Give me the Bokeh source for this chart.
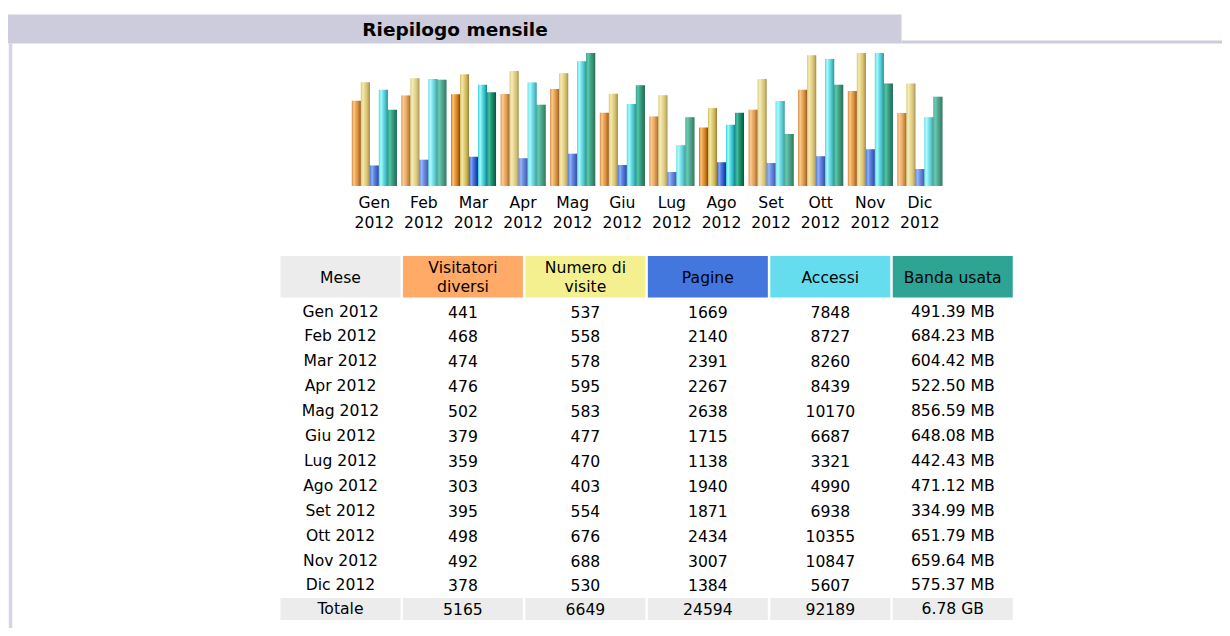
from bokeh.plotting import figure
from bokeh.models import Range1d
from bokeh.core.properties import value
from bokeh.embed import file_html
from bokeh.resources import INLINE

# ---------------- data ----------------
months_short = ["Gen", "Feb", "Mar", "Apr", "Mag", "Giu", "Lug", "Ago", "Set", "Ott", "Nov", "Dic"]
year = "2012"
visitors = [441, 468, 474, 476, 502, 379, 359, 303, 395, 498, 492, 378]
visits = [537, 558, 578, 595, 583, 477, 470, 403, 554, 676, 688, 530]
pages = [1669, 2140, 2391, 2267, 2638, 1715, 1138, 1940, 1871, 2434, 3007, 1384]
hits = [7848, 8727, 8260, 8439, 10170, 6687, 3321, 4990, 6938, 10355, 10847, 5607]
bandwidth_mb = [491.39, 684.23, 604.42, 522.50, 856.59, 648.08, 442.43, 471.12, 334.99, 651.79, 659.64, 575.37]
totals = ["5165", "6649", "24594", "92189", "6.78 GB"]
headers = [["Mese"], ["Visitatori", "diversi"], ["Numero di", "visite"], ["Pagine"], ["Accessi"], ["Banda usata"]]
title = "Riepilogo mensile"
total_label = "Totale"

# ---------------- styles ----------------
FONT = "DejaVu Sans"
FS = "15.6px"
border_col = "#CCCCDD"
head_cols = ["#ECECEC", "#FFAA66", "#F4F090", "#4477DD", "#66DDEE", "#2EA495"]

bar_profiles = [
    ["#D88838", "#F0B060", "#F6BE74", "#EEA650", "#E8963C", "#DC882C", "#C87620", "#B06414", "#92500C"],  # visitors
    ["#D8C674", "#ECDC94", "#F2E4A0", "#E8D888", "#E0CC74", "#D8C268", "#CCB458", "#BAA04A", "#A08A3C"],  # visits
    ["#4474DC", "#6890EE", "#7CA0F2", "#6088EA", "#4C74DE", "#3C64D2", "#2E56C2", "#2446AA", "#1C3A92"],  # pages
    ["#4CD8E0", "#84F0F4", "#98F6F6", "#74E8EE", "#58DAE2", "#42CCD6", "#34BCC6", "#26A6B0", "#1E8E98"],  # hits
    ["#22A082", "#34B494", "#3CBA9A", "#2EA484", "#229474", "#1A8868", "#147C5C", "#0E6C4C", "#0A5C40"],  # bandwidth
]

W, H = 1222, 628
p = figure(width=W, height=H, output_backend="svg", toolbar_location=None,
           x_range=Range1d(0, W), y_range=Range1d(H, 0),
           min_border=0, outline_line_color=None)
p.axis.visible = False
p.grid.visible = False
p.background_fill_color = "white"
p.border_fill_color = "white"

# ---------------- frame ----------------
p.quad(left=[7.5], right=[901], top=[14], bottom=[43], fill_color=border_col, line_color=None)
p.quad(left=[901], right=[1240], top=[40], bottom=[43], fill_color=border_col, line_color=None)
p.quad(left=[8.3], right=[11.8], top=[43], bottom=[640], fill_color="#D4D4E4", line_color=None)
p.text(x=[454.5], y=[28.5], text=[title], text_font=value(FONT), text_font_style="bold",
       text_font_size="18.5px", text_align="center", text_baseline="middle", text_color="#000000")

# ---------------- bar chart ----------------
base_y = 185.5
max_h = 133.0
group_x0 = 351.3
group_pitch = 49.6
bar_w = 9.0
series = [visitors, visits, pages, hits, bandwidth_mb]
scales = [max(visits), max(visits), max(hits), max(hits), max(bandwidth_mb)]

for s, (vals, sc) in enumerate(zip(series, scales)):
    prof = bar_profiles[s]
    n = len(prof)
    sw = bar_w / n
    for k, col in enumerate(prof):
        lefts, rights, tops, bottoms = [], [], [], []
        for m, v in enumerate(vals):
            x0 = group_x0 + group_pitch * m + bar_w * s + sw * k
            lefts.append(x0)
            rights.append(x0 + sw + 0.05)
            tops.append(base_y - v / sc * max_h)
            bottoms.append(base_y)
        p.quad(left=lefts, right=rights, top=tops, bottom=bottoms, fill_color=col, line_color=None)

centers = [group_x0 + group_pitch * m + bar_w * 2.5 for m in range(len(months_short))]
p.text(x=centers, y=[202] * 12, text=months_short, text_font=value(FONT), text_font_size=FS,
       text_align="center", text_baseline="middle", text_color="#000000")
p.text(x=centers, y=[221] * 12, text=[year] * 12, text_font=value(FONT), text_font_size=FS,
       text_align="center", text_baseline="middle", text_color="#000000")

# ---------------- table ----------------
col_x0 = 280.0
col_pitch = 122.45
col_w = 120.0
col_c = [col_x0 + col_pitch * i + col_w / 2 for i in range(6)]

# header
p.quad(left=[col_x0 + col_pitch * i for i in range(6)],
       right=[col_x0 + col_pitch * i + col_w for i in range(6)],
       top=[255.5] * 6, bottom=[297] * 6, fill_color=head_cols, line_color=None)
hx, hy, ht = [], [], []
for i, lines in enumerate(headers):
    if len(lines) == 1:
        hx.append(col_c[i]); hy.append(277.5); ht.append(lines[0])
    else:
        hx += [col_c[i], col_c[i]]; hy += [267.5, 286.5]; ht += lines
p.text(x=hx, y=hy, text=ht, text_font=value(FONT), text_font_size=FS,
       text_align="center", text_baseline="middle", text_color="#000000")

# rows
row_y0 = 311.0
row_pitch = 24.9
rows_txt = []
for m in range(12):
    rows_txt.append([f"{months_short[m]} {year}", str(visitors[m]), str(visits[m]),
                     str(pages[m]), str(hits[m]), f"{bandwidth_mb[m]:.2f} MB"])
tx, ty, tt = [], [], []
for m, r in enumerate(rows_txt):
    for i, t in enumerate(r):
        tx.append(col_c[i]); ty.append(row_y0 + row_pitch * m); tt.append(t)

# total row
p.quad(left=[col_x0 + col_pitch * i for i in range(6)],
       right=[col_x0 + col_pitch * i + col_w for i in range(6)],
       top=[597.5] * 6, bottom=[619.5] * 6, fill_color="#ECECEC", line_color=None)
for i, t in enumerate([total_label] + totals):
    tx.append(col_c[i]); ty.append(608.5); tt.append(t)

p.text(x=tx, y=ty, text=tt, text_font=value(FONT), text_font_size=FS,
       text_align="center", text_baseline="middle", text_color="#000000")

open("out.html", "w").write(file_html(p, INLINE))
